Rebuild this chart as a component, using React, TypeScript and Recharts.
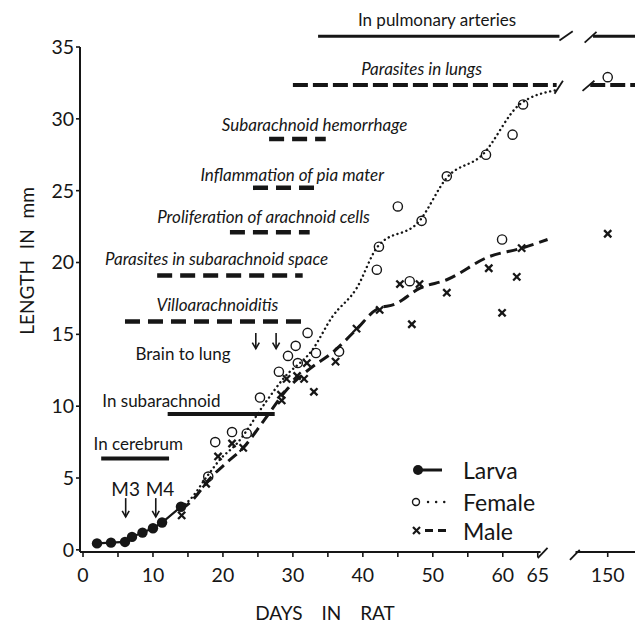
import React from 'react'
import { ComposedChart, Line, Scatter, XAxis, YAxis, ReferenceLine, ReferenceDot } from 'recharts'

// the 150-day sample sits past the axis break, drawn at x = 75
const BREAK_POS = 75
const pos = (d: number) => (d > 100 ? BREAK_POS : d)

const larvaDays = [2, 4, 6, 7, 8.5, 10, 11.3, 14]
const larvaLen = [0.45, 0.5, 0.55, 0.9, 1.2, 1.5, 1.9, 3.0]

const femaleDays = [17.9, 18.9, 21.3, 23.4, 25.3, 28.0, 29.3, 30.4, 30.7, 32.1, 33.3, 36.6, 42.0, 42.3, 45.0, 46.7, 48.4, 52.0, 57.6, 59.9, 61.4, 62.9, 150]
const femaleLen = [5.1, 7.5, 8.2, 8.1, 10.6, 12.4, 13.5, 14.2, 13.0, 15.1, 13.7, 13.8, 19.5, 21.1, 23.9, 18.7, 22.9, 26.0, 27.5, 21.6, 28.9, 31.0, 32.9]

const maleDays = [14.1, 17.6, 19.3, 21.3, 22.9, 28.3, 28.4, 29.1, 30.6, 31.6, 32.0, 33.0, 36.1, 39.1, 42.4, 45.3, 47.0, 48.1, 52.0, 58.0, 59.9, 62.0, 62.7, 150]
const maleLen = [2.4, 4.6, 6.5, 7.4, 7.1, 10.8, 10.4, 11.9, 12.1, 11.9, 13.0, 11.0, 13.1, 15.4, 16.7, 18.5, 15.7, 18.5, 17.9, 19.6, 16.5, 19.0, 21.0, 22.0]

// hand-drawn growth curves
const femaleCurveDays = [14, 15.3, 17.7, 19.6, 22, 26, 28.6, 32.9, 35.6, 39.1, 42.1, 48.1, 52, 57.1, 62.4, 67.7]
const femaleCurveLen = [3.0, 3.5, 5.1, 6.3, 7.4, 10.2, 11.9, 14.0, 16.2, 18.2, 21.1, 22.9, 25.9, 27.5, 31.0, 32.0]
const maleCurveDays = [14, 15.3, 18.4, 20.6, 22.9, 26, 29.3, 32.4, 35.7, 39.1, 42, 44.6, 48.1, 52, 58, 62.7, 66.4]
const maleCurveLen = [2.8, 3.3, 5.1, 6.1, 7.1, 9.1, 11.25, 12.6, 13.75, 15.35, 16.75, 17.1, 18.2, 18.8, 20.4, 21.0, 21.6]

// stages of migration (solid bars) and pathology (dashed bars)
const migrationNames = ['In pulmonary arteries', 'In subarachnoid', 'In cerebrum']
const migrationStart = [33.6, 12.1, 2.6]
const migrationEnd = [68.1, 27.4, 12.3]
const migrationLevel = [35.75, 9.45, 6.35]

const lesionNames = ['Parasites in lungs', 'Subarachnoid hemorrhage', 'Inflammation of pia mater', 'Proliferation of arachnoid cells', 'Parasites in subarachnoid space', 'Villoarachnoiditis']
const lesionStart = [30.0, 26.6, 24.3, 21.0, 10.6, 6.0]
const lesionEnd = [67.7, 34.7, 34.1, 32.4, 31.4, 31.4]
const lesionLevel = [32.35, 28.6, 25.2, 22.1, 19.1, 15.9]

const xTicks = [0, 5, 10, 15, 20, 25, 30, 35, 40, 45, 50, 55, 60, 65, BREAK_POS]
const yTicks = [0, 5, 10, 15, 20, 25, 30, 35]

const toPoints = (days: number[], lens: number[]) => days.map((d, i) => ({ x: pos(d), y: lens[i] }))

const INK = '#161616'
const FONT = 'Lato, "Open Sans", sans-serif'

// text placement in data units (day, mm)
const textSpots: { text: string; x: number; y: number; italic?: boolean; size: number }[] = [
  { text: migrationNames[0], x: 50.6, y: 36.9, size: 17 },
  { text: lesionNames[0], x: 48.4, y: 33.5, italic: true, size: 17 },
  { text: lesionNames[1], x: 33.1, y: 29.6, italic: true, size: 17 },
  { text: lesionNames[2], x: 29.9, y: 26.1, italic: true, size: 17 },
  { text: lesionNames[3], x: 25.8, y: 23.2, italic: true, size: 17 },
  { text: lesionNames[4], x: 19.1, y: 20.3, italic: true, size: 17 },
  { text: lesionNames[5], x: 19.2, y: 17.1, italic: true, size: 17 },
  { text: 'Brain to lung', x: 14.3, y: 13.7, size: 17 },
  { text: migrationNames[1], x: 11.2, y: 10.4, size: 17 },
  { text: migrationNames[2], x: 7.9, y: 7.4, size: 17 },
  { text: 'M3', x: 6.1, y: 4.3, size: 19 },
  { text: 'M4', x: 11.0, y: 4.3, size: 19 },
]

const arrowSpots = [
  { x: 6.1, top: 3.6, bottom: 2.3 },
  { x: 10.4, top: 3.6, bottom: 2.3 },
  { x: 24.7, top: 15.1, bottom: 14.0 },
  { x: 27.6, top: 15.1, bottom: 14.0 },
]

// little "//" marks where a line jumps from 65 to 150 days
const slashes = [
  [{ x: 65.0, y: -0.57 }, { x: 66.4, y: 0.13 }],
  [{ x: 69.6, y: -0.7 }, { x: 71.0, y: 0.0 }],
  [{ x: 68.1, y: 35.45 }, { x: 70.0, y: 36.1 }],
  [{ x: 71.7, y: 35.3 }, { x: 73.4, y: 36.05 }],
  [{ x: 67.4, y: 31.75 }, { x: 68.6, y: 32.65 }],
  [{ x: 71.4, y: 31.95 }, { x: 73.1, y: 32.65 }],
]

const textLabel = (text: string, italic: boolean, size: number) => (props: any) => {
  const vb = props.viewBox || { x: 0, y: 0, width: 0, height: 0 }
  return (
    <text
      x={vb.x + (vb.width || 0) / 2}
      y={vb.y + (vb.height || 0) / 2}
      textAnchor="middle"
      dominantBaseline="central"
      fontFamily={FONT}
      fontStyle={italic ? 'italic' : 'normal'}
      fontSize={size}
      fill={INK}
    >
      {text}
    </text>
  )
}

const Arrow = (p: any) => {
  const x = p.x1
  const top = Math.min(p.y1, p.y2)
  const bottom = Math.max(p.y1, p.y2)
  return (
    <g stroke={INK} strokeWidth={1.6} fill="none">
      <line x1={x} y1={top} x2={x} y2={bottom} />
      <path d={`M${x - 3.5},${bottom - 6} L${x},${bottom} L${x + 3.5},${bottom - 6}`} />
    </g>
  )
}

const OpenCircle = (p: any) => <circle cx={p.cx} cy={p.cy} r={4.6} fill="none" stroke={INK} strokeWidth={1.4} />
const FilledCircle = (p: any) => <circle cx={p.cx} cy={p.cy} r={5.2} fill={INK} />
const Cross = (p: any) => {
  const s = 3.6
  return (
    <g stroke={INK} strokeWidth={2.3}>
      <line x1={p.cx - s} y1={p.cy - s} x2={p.cx + s} y2={p.cy + s} />
      <line x1={p.cx - s} y1={p.cy + s} x2={p.cx + s} y2={p.cy - s} />
    </g>
  )
}

const fmtX = (v: number) => (v === BREAK_POS ? '150' : v % 10 === 0 || v === 65 ? String(v) : '')

export default function App() {
  return (
    <div style={{ position: 'absolute', left: 0, top: 0, width: 635, height: 622, background: '#fff' }}>
      <ComposedChart width={635} height={622} margin={{ top: 47, right: 0, bottom: 0, left: 0 }}>
        <XAxis
          type="number"
          dataKey="x"
          domain={[-0.43, 78.9]}
          allowDataOverflow
          ticks={xTicks}
          interval={0}
          tickFormatter={fmtX}
          height={70}
          axisLine={false}
          tickLine={{ stroke: INK, strokeWidth: 1.6 }}
          tickSize={5}
          tickMargin={11}
          tick={{ fontFamily: FONT, fontSize: 19.5, fill: INK }}
        />
        <YAxis
          type="number"
          dataKey="y"
          domain={[-0.15, 35]}
          allowDataOverflow
          ticks={yTicks}
          interval={0}
          width={80}
          axisLine={{ stroke: INK, strokeWidth: 2 }}
          tickLine={{ stroke: INK, strokeWidth: 1.6 }}
          tickSize={4}
          tickMargin={2}
          tick={{ fontFamily: FONT, fontSize: 19.5, fill: INK }}
        />

        {/* broken x axis */}
        <ReferenceLine segment={[{ x: -0.43, y: -0.15 }, { x: 65.4, y: -0.15 }]} stroke={INK} strokeWidth={2} ifOverflow="visible" />
        <ReferenceLine segment={[{ x: 70.4, y: -0.15 }, { x: 78.9, y: -0.15 }]} stroke={INK} strokeWidth={2} ifOverflow="visible" />

        {migrationNames.map((n, i) => (
          <ReferenceLine
            key={n}
            segment={[{ x: migrationStart[i], y: migrationLevel[i] }, { x: migrationEnd[i], y: migrationLevel[i] }]}
            stroke={INK}
            strokeWidth={i === 0 ? 3 : 4}
            ifOverflow="visible"
          />
        ))}
        <ReferenceLine segment={[{ x: 72.9, y: migrationLevel[0] }, { x: 78.9, y: migrationLevel[0] }]} stroke={INK} strokeWidth={3} ifOverflow="visible" />

        {lesionNames.map((n, i) => (
          <ReferenceLine
            key={n}
            segment={[{ x: lesionStart[i], y: lesionLevel[i] }, { x: lesionEnd[i], y: lesionLevel[i] }]}
            stroke={INK}
            strokeWidth={i === 0 ? 4 : 4.5}
            strokeDasharray={i === 0 ? '15 5' : '15 8'}
            ifOverflow="visible"
          />
        ))}
        <ReferenceLine segment={[{ x: 72.5, y: lesionLevel[0] }, { x: 78.9, y: lesionLevel[0] }]} stroke={INK} strokeWidth={4} strokeDasharray="15 5" ifOverflow="visible" />

        {slashes.map((s, i) => (
          <ReferenceLine key={'s' + i} segment={s} stroke={INK} strokeWidth={1.8} ifOverflow="visible" />
        ))}

        {arrowSpots.map((a, i) => (
          <ReferenceLine
            key={'a' + i}
            segment={[{ x: a.x, y: a.top }, { x: a.x, y: a.bottom }]}
            ifOverflow="visible"
            shape={Arrow}
          />
        ))}

        {textSpots.map((t) => (
          <ReferenceDot
            key={t.text}
            x={t.x}
            y={t.y}
            r={0}
            stroke="none"
            fill="none"
            ifOverflow="visible"
            label={textLabel(t.text, !!t.italic, t.size)}
          />
        ))}

        <Line data={toPoints(larvaDays, larvaLen)} dataKey="y" type="linear" stroke={INK} strokeWidth={2.2} dot={false} isAnimationActive={false} />
        <Line
          data={toPoints(femaleCurveDays, femaleCurveLen)}
          dataKey="y"
          type="monotone"
          stroke={INK}
          strokeWidth={2.4}
          strokeDasharray="0.1 4.6"
          strokeLinecap="round"
          dot={false}
          isAnimationActive={false}
        />
        <Line
          data={toPoints(maleCurveDays, maleCurveLen)}
          dataKey="y"
          type="monotone"
          stroke={INK}
          strokeWidth={3}
          strokeDasharray="11 6"
          dot={false}
          isAnimationActive={false}
        />

        <Scatter data={toPoints(larvaDays, larvaLen)} dataKey="y" shape={FilledCircle} isAnimationActive={false} />
        <Scatter data={toPoints(femaleDays, femaleLen)} dataKey="y" shape={OpenCircle} isAnimationActive={false} />
        <Scatter data={toPoints(maleDays, maleLen)} dataKey="y" shape={Cross} isAnimationActive={false} />
      </ComposedChart>

      {/* legend and axis titles */}
      <svg width={635} height={622} style={{ position: 'absolute', left: 0, top: 0, pointerEvents: 'none' }}>
        <text x={26} y={261} transform="rotate(-90 26 261)" textAnchor="middle" dominantBaseline="central" fontFamily={FONT} fontSize={19} wordSpacing={6} fill={INK}>
          LENGTH IN mm
        </text>
        <text x={325} y={612} textAnchor="middle" dominantBaseline="central" fontFamily={FONT} fontSize={19} wordSpacing={14} fill={INK}>
          DAYS IN RAT
        </text>

        <circle cx={418} cy={470} r={5} fill={INK} />
        <line x1={418} y1={470} x2={442} y2={470} stroke={INK} strokeWidth={3} />
        <text x={463} y={470} dominantBaseline="central" fontFamily={FONT} fontSize={23} fill={INK}>Larva</text>

        <circle cx={416} cy={502} r={3.5} fill="none" stroke={INK} strokeWidth={1.4} />
        <line x1={428} y1={502} x2={448} y2={502} stroke={INK} strokeWidth={2.4} strokeDasharray="0.1 8" strokeLinecap="round" />
        <text x={463} y={502} dominantBaseline="central" fontFamily={FONT} fontSize={23} fill={INK}>Female</text>

        <g stroke={INK} strokeWidth={2.2}>
          <line x1={413} y1={527} x2={420} y2={534} />
          <line x1={413} y1={534} x2={420} y2={527} />
        </g>
        <line x1={425} y1={530.5} x2={448} y2={530.5} stroke={INK} strokeWidth={3} strokeDasharray="8 5" />
        <text x={463} y={531} dominantBaseline="central" fontFamily={FONT} fontSize={23} fill={INK}>Male</text>
      </svg>
    </div>
  )
}
